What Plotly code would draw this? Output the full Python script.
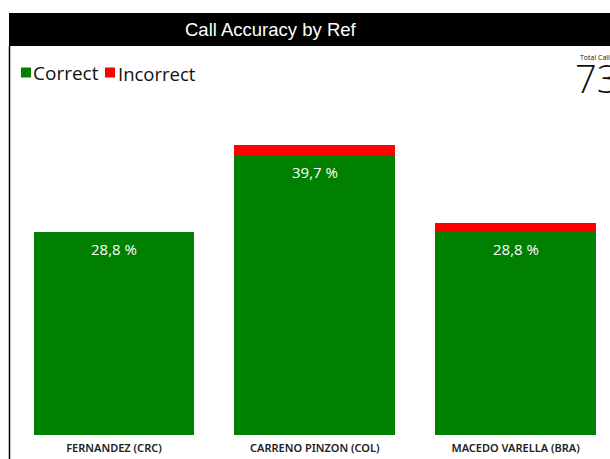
import plotly.graph_objects as go

# ---- data ----
refs = ["FERNANDEZ (CRC)", "CARRENO PINZON (COL)", "MACEDO VARELLA (BRA)"]
correct = [21, 29, 21]
incorrect = [0, 1, 1]
title_text = "Call Accuracy by Ref"
total_label = "Total Call"

total_calls = sum(correct) + sum(incorrect)

W, H = 610, 459
GREEN = "#008000"
RED = "#FF0000"


def px_x(p):
    return p / W


def px_y(p):
    return (H - p) / H


fig = go.Figure()
fig.add_trace(go.Bar(x=refs, y=correct, name="Correct", marker_color=GREEN,
                     marker_line_width=0, hoverinfo="skip"))
fig.add_trace(go.Bar(x=refs, y=incorrect, name="Incorrect", marker_color=RED,
                     marker_line_width=0, hoverinfo="skip"))

annotations = []
# percentage labels (share of total calls)
for r, c in zip(refs, correct):
    pct = f"{c / total_calls * 100:.1f}".replace(".", ",") + " %"
    annotations.append(dict(x=r, y=c, xref="x", yref="y", text=pct, showarrow=False,
                            yanchor="top", yshift=-5,
                            font=dict(family="Open Sans", size=15, color="white")))

# title
annotations.append(dict(x=px_x(271), y=px_y(30), xref="paper", yref="paper",
                        text=title_text, showarrow=False, xanchor="center", yanchor="middle",
                        font=dict(family="Liberation Sans", size=18.5, color="white")))
# legend texts
annotations.append(dict(x=px_x(31), y=px_y(73), xref="paper", yref="paper", text="Correct",
                        showarrow=False, xanchor="left", yanchor="middle",
                        font=dict(family="Open Sans", size=19, color="#111111")))
annotations.append(dict(x=px_x(116), y=px_y(73), xref="paper", yref="paper", text="Incorrect",
                        showarrow=False, xanchor="left", yanchor="middle",
                        font=dict(family="Open Sans", size=18.5, color="#111111")))
# total calls card
annotations.append(dict(x=px_x(578), y=px_y(57), xref="paper", yref="paper", text=total_label,
                        showarrow=False, xanchor="left", yanchor="middle",
                        font=dict(family="Open Sans", size=7, color="#111111")))
annotations.append(dict(x=px_x(573), y=px_y(78), xref="paper", yref="paper", text=str(total_calls),
                        showarrow=False, xanchor="left", yanchor="middle",
                        font=dict(family="Open Sans", size=38, color="#111111", weight=300)))

shapes = [
    # title bar
    dict(type="rect", xref="paper", yref="paper", x0=px_x(9), x1=1.02, y0=px_y(46), y1=px_y(13),
         fillcolor="black", line_width=0, layer="above"),
    # left border
    dict(type="line", xref="paper", yref="paper", x0=px_x(9.5), x1=px_x(9.5), y0=-0.02, y1=px_y(46),
         line=dict(color="black", width=1.5)),
    # legend squares
    dict(type="rect", xref="paper", yref="paper", x0=px_x(21), x1=px_x(31), y0=px_y(77.5), y1=px_y(67.5),
         fillcolor=GREEN, line_width=0),
    dict(type="rect", xref="paper", yref="paper", x0=px_x(105), x1=px_x(115), y0=px_y(77.5), y1=px_y(67.5),
         fillcolor=RED, line_width=0),
]

ppu = (435 - 232.3) / correct[0]  # pixels per call
plot_top = 100
y_max = (435 - plot_top) / ppu

fig.update_layout(
    width=W, height=H,
    margin=dict(l=0, r=0, t=0, b=0),
    paper_bgcolor="white", plot_bgcolor="white",
    barmode="stack", bargap=0.2,
    showlegend=False,
    annotations=annotations,
    shapes=shapes,
    xaxis=dict(domain=[px_x(13.6), 1], range=[-0.5, 2.47], showgrid=False, zeroline=False,
               showline=False, ticks="", automargin=False, fixedrange=True, ticklabelstandoff=5,
               tickfont=dict(family="Noto Sans", size=11, color="#222222", weight=600)),
    yaxis=dict(domain=[px_y(435), px_y(plot_top)], range=[0, y_max], visible=False,
               automargin=False, fixedrange=True),
)

fig.write_html("out.html", config={"displayModeBar": False},
               post_script="document.body.style.margin='0';document.body.style.overflow='hidden';")
